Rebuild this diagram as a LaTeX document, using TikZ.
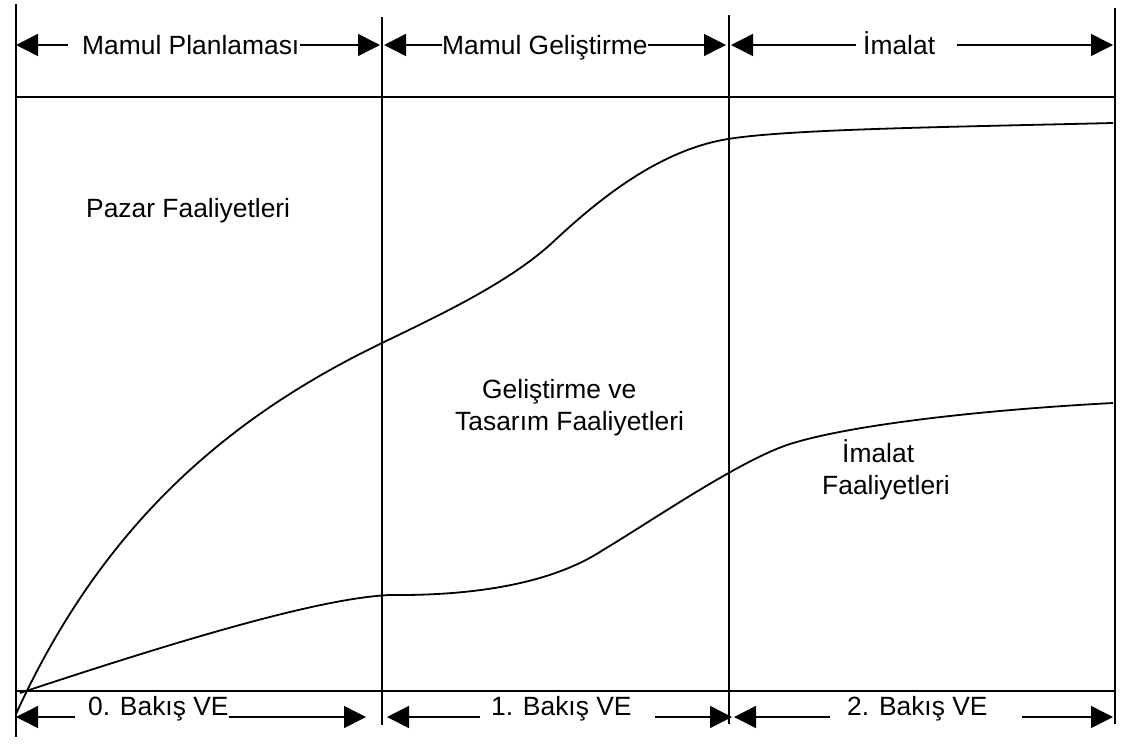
\documentclass[tikz,border=0pt]{standalone}
\usepackage{fontspec}
\setmainfont{Liberation Sans}
\usetikzlibrary{arrows.meta}
\begin{document}
\begin{tikzpicture}[x=1pt,y=-1pt,
  frame/.style={line width=1.6pt},
  curve/.style={line width=1.8pt, line join=round},
  span/.style={line width=1.5pt, -{Triangle[length=22pt,width=22pt]}},
  lbl/.style={inner sep=0pt, anchor=base west, font=\fontsize{26.4}{31.7}\selectfont}]
\useasboundingbox (0,0) rectangle (1123,747);

% frame: phase boundaries and the two horizontal rules
\draw[frame] (16,4) -- (16,737);
\draw[frame] (382,17) -- (382,725);
\draw[frame] (729,15) -- (729,724);
\draw[frame] (1115,8) -- (1115,724);
\draw[frame] (16,97) -- (1115,97);
\draw[frame] (16,691) -- (1115,691);

% upper curve: market activities
\draw[curve] (16,714) .. controls (100,530) and (222,420) .. (382,343)
  .. controls (440,315) and (510,282) .. (553,242)
  .. controls (600,198) and (660,150) .. (728,139)
  .. controls (790,129) and (950,127) .. (1113,123);

% lower curve: manufacturing activities
\draw[curve] (20,693) .. controls (180,640) and (320,598) .. (390,595)
  .. controls (500,596) and (565,575) .. (603,550)
  .. controls (650,522) and (740,460) .. (790,444)
  .. controls (850,425) and (980,410) .. (1113,403);

% region labels
\node[lbl] (pazar) at (86,217) {Pazar Faaliyetleri};
\node[lbl] (gel1) at (482,398) {Geliştirme ve};
\node[lbl] (gel2) at (455,430) {Tasarım Faaliyetleri};
\node[lbl] (ima1) at (842,462) {İmalat};
\node[lbl] (ima2) at (822,494) {Faaliyetleri};

% top phase spans
\coordinate (aL) at (16,45);   \coordinate (aR) at (380,45);
\coordinate (bL) at (384,45);  \coordinate (bR) at (726,45);
\coordinate (cL) at (731,45);  \coordinate (cR) at (1113,45);
\coordinate (aLs) at (68,45);
\coordinate (cLs) at (856,45); \coordinate (cRs) at (957,45);
\node[lbl] (tA) at (82,54)  {Mamul Planlaması};
\node[lbl] (tB) at (442,54) {Mamul Geliştirme};
\node[lbl] (tC) at (863,54) {İmalat};
\draw[span] (aLs) -- (aL);
\draw[span] (tA.east |- aR) -- (aR);
\draw[span] (tB.west |- bL) -- (bL);
\draw[span] (tB.east |- bR) -- (bR);
\draw[span] (cLs) -- (cL);
\draw[span] (cRs) -- (cR);

% bottom value-engineering spans
\coordinate (dL) at (16,717);  \coordinate (dR) at (366,717);
\coordinate (eL) at (387,717); \coordinate (eR) at (732,717);
\coordinate (fL) at (734,717); \coordinate (fR) at (1113,717);
\coordinate (dLs) at (75,717);
\coordinate (eLs) at (480,717); \coordinate (eRs) at (655,717);
\coordinate (fLs) at (830,717); \coordinate (fRs) at (1022,717);
\node[lbl] (tD) at (88,715)  {0. Bakış VE};
\node[lbl] (tE) at (491,715) {1. Bakış VE};
\node[lbl] (tF) at (847,715) {2. Bakış VE};
\draw[span] (dLs) -- (dL);
\draw[span] (tD.east |- dR) -- (dR);
\draw[span] (eLs) -- (eL);
\draw[span] (eRs) -- (eR);
\draw[span] (fLs) -- (fL);
\draw[span] (fRs) -- (fR);
\end{tikzpicture}
\end{document}
